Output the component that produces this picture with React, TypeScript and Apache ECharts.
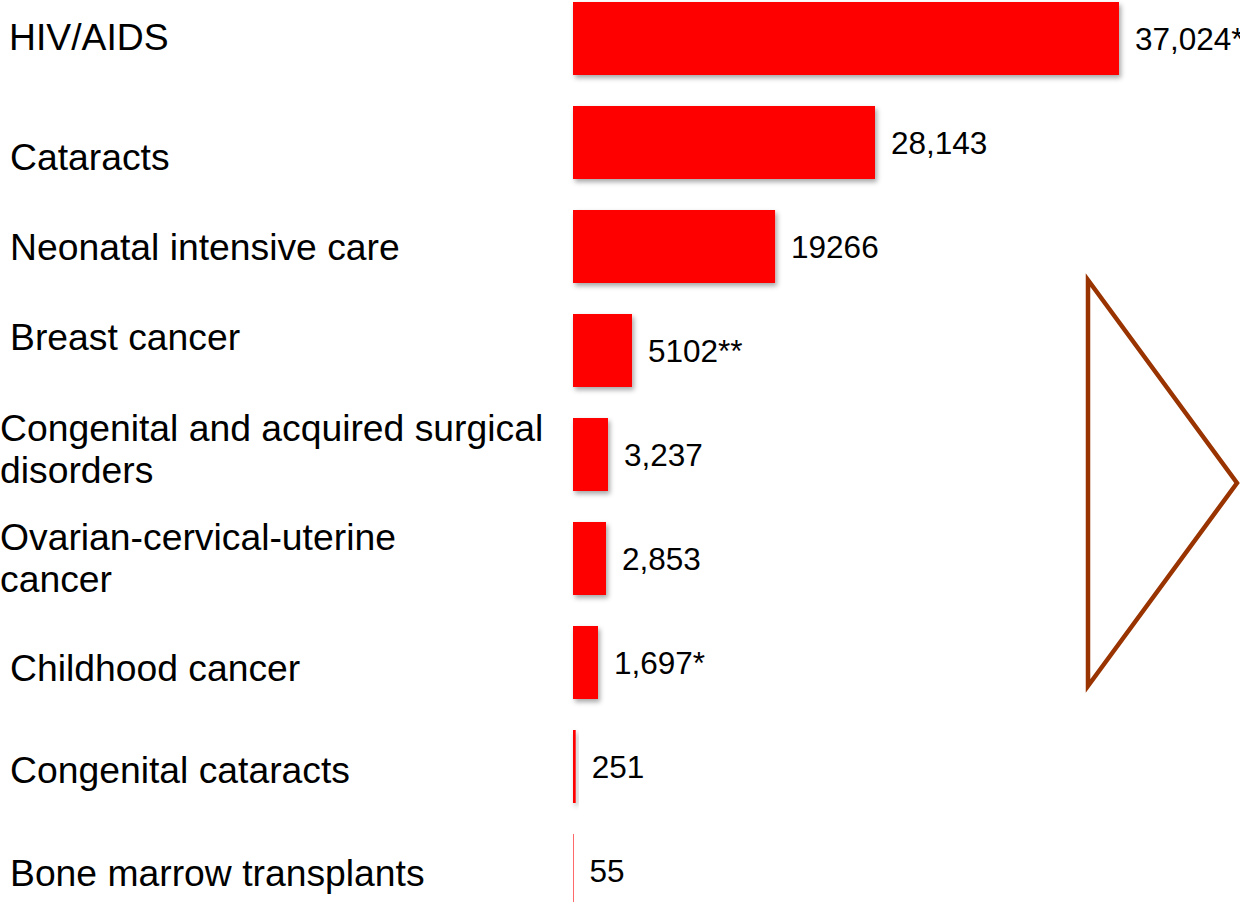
import React, { useEffect, useRef } from "react";
import * as echarts from "echarts";

const categories = [
  "HIV/AIDS",
  "Cataracts",
  "Neonatal intensive care",
  "Breast cancer",
  "Congenital and acquired surgical\ndisorders",
  "Ovarian-cervical-uterine\ncancer",
  "Childhood cancer",
  "Congenital cataracts",
  "Bone marrow transplants",
];

// bar lengths as drawn in the picture (same units as the labels)
const barValues = [50880, 28143, 18830, 5500, 3262, 3075, 2330, 251, 55];

// value labels as printed next to the bars
const valueLabels = ["37,024*", "28,143", "19266", "5102**", "3,237", "2,853", "1,697*", "251", "55"];

// category label placement in page pixels (left x, vertical centre y)
const labelPos: [number, number][] = [
  [9, 37],
  [10, 157],
  [10, 247],
  [10, 337],
  [0, 449],
  [0, 558],
  [10, 668],
  [10, 770],
  [10, 873],
];

const FONT = "'Liberation Sans', Arial, Helvetica, sans-serif";
const OFFSET = 14; // chart div starts 14px above the page top

export default function App() {
  const ref = useRef<HTMLDivElement>(null);

  useEffect(() => {
    document.body.style.margin = "0";
    const chart = echarts.init(ref.current!, null, { renderer: "svg" });
    const option: any = {
      animation: false,
      backgroundColor: "#ffffff",
      grid: { left: 573, width: 643.86, top: 0.5, height: 936 },
      xAxis: { type: "value", min: 0, max: 60000, show: false },
      yAxis: { type: "category", data: categories, inverse: true, show: false },
      series: [
        {
          type: "bar",
          data: barValues.map((v) =>
            v < 100
              ? { value: v, itemStyle: { shadowBlur: 0, shadowOffsetX: 0, shadowOffsetY: 0, shadowColor: "rgba(0,0,0,0)" } }
              : v
          ),
          barWidth: 73,
          itemStyle: {
            color: "#ff0000",
            shadowBlur: 5,
            shadowOffsetX: 2,
            shadowOffsetY: 3,
            shadowColor: "rgba(0,0,0,0.35)",
          },
          label: {
            show: true,
            position: "right",
            distance: 16,
            formatter: (p: any) => valueLabels[p.dataIndex],
            fontSize: 31.5,
            fontFamily: FONT,
            color: "#000000",
          },
        },
      ],
      graphic: [
        ...categories.map((c, i) => ({
          type: "text",
          x: labelPos[i][0],
          y: labelPos[i][1] + OFFSET,
          style: {
            text: c,
            font: `37.3px ${FONT}`,
            fill: "#000000",
            align: "left",
            verticalAlign: "middle",
            lineHeight: 42,
          },
        })),
        {
          type: "polygon",
          shape: {
            points: [
              [1088, 280 + OFFSET],
              [1237, 483 + OFFSET],
              [1088, 686 + OFFSET],
            ],
          },
          style: { fill: "none", stroke: "#993300", lineWidth: 4.5 },
        },
      ],
    };
    chart.setOption(option);
    return () => chart.dispose();
  }, []);

  return (
    <div style={{ position: "fixed", left: 0, top: 0, width: 1240, height: 902, overflow: "hidden", background: "#fff" }}>
      <div
        ref={ref}
        style={{ position: "absolute", left: 0, top: -OFFSET, width: 1240, height: 937 }}
      />
    </div>
  );
}
